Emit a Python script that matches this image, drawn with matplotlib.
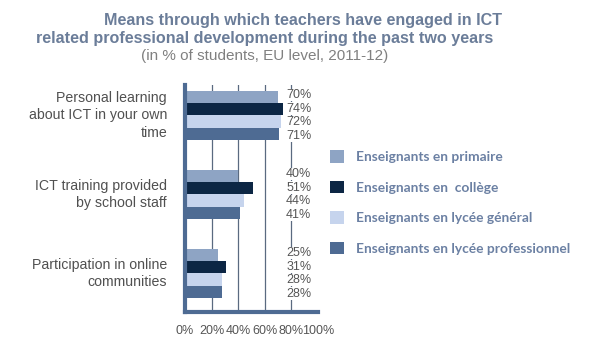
import numpy as np
import matplotlib.pyplot as plt
from matplotlib.patches import Patch

categories = ['Personal learning\nabout ICT in your own\ntime',
              'ICT training provided\nby school staff',
              'Participation in online\ncommunities']
series = ['Enseignants en primaire', 'Enseignants en  collège',
          'Enseignants en lycée général', 'Enseignants en lycée professionnel']
primaire = [70, 40, 25]
college = [74, 51, 31]
lycee_gen = [72, 44, 28]
lycee_pro = [71, 41, 28]
x_ticks = [0, 20, 40, 60, 80, 100]
x_ticklabels = ['0%', '20%', '40%', '60%', '80%', '100%']

colors = ['#8ea4c4', '#0c2644', '#c6d4ed', '#4e6b93']
data = [primaire, college, lycee_gen, lycee_pro]

fig = plt.figure(figsize=(5.98, 3.64), dpi=100)
W, H = 598, 364
ax = fig.add_axes([185/W, 1-312/H, 133/W, 227/H])

bar_h = 0.156
ypos = np.arange(len(categories))
for i, vals in enumerate(data):
    ax.barh(ypos + (i - 1.5)*bar_h, vals, height=bar_h, color=colors[i], zorder=3)
    for j, v in enumerate(vals):
        ax.text(85.5, ypos[j] + (i - 1.5)*0.172, f'{v}%', ha='center', va='center',
                fontsize=9, color='#555555', family='Liberation Sans', zorder=4,
                bbox=dict(facecolor='white', edgecolor='none', pad=0.3))

ax.set_xlim(0, 100)
ax.set_ylim(2.49, -0.386)
ax.set_xticks(x_ticks)
ax.set_xticklabels(x_ticklabels, family='Liberation Sans', fontsize=9, color='#555555')
ax.set_yticks([])
ax.tick_params(axis='x', length=0, pad=9)
for xg in [20, 40, 60, 80]:
    ax.axvline(xg, color='#5a6a80', lw=0.9, zorder=1)
for s in ['top', 'right']:
    ax.spines[s].set_visible(False)
for s in ['left', 'bottom']:
    ax.spines[s].set_color('#4e6b93')
    ax.spines[s].set_linewidth(3)
    ax.spines[s].set_zorder(5)

for j, c in enumerate(categories):
    ax.text(-13.5, ypos[j], c, ha='right', va='center', fontsize=10.2, color='#505050',
            family='Liberation Sans', linespacing=1.3, transform=ax.transData)

handles = [Patch(facecolor=c, edgecolor='none') for c in colors]
fig.legend(handles, series, loc='upper left', bbox_to_anchor=(318/W, 1-138/H),
           frameon=False, handlelength=1.0, handleheight=1.0, handletextpad=0.9,
           labelspacing=1.28, prop={'family': 'Lato', 'weight': 'bold', 'size': 9.9},
           labelcolor='#6b80a3')

fig.text(303/W, 1-21/H, 'Means through which teachers have engaged in ICT', ha='center',
         va='center', fontsize=11.6, fontweight='bold', color='#6b7d99', family='Liberation Sans')
fig.text(265/W, 1-39/H, 'related professional development during the past two years',
         ha='center', va='center', fontsize=11.6, fontweight='bold', color='#6b7d99',
         family='Liberation Sans')
fig.text(265/W, 1-56/H, '(in % of students, EU level, 2011-12)', ha='center', va='center',
         fontsize=11, color='#808080', family='Liberation Sans')

fig.savefig('out.png', dpi=100)
